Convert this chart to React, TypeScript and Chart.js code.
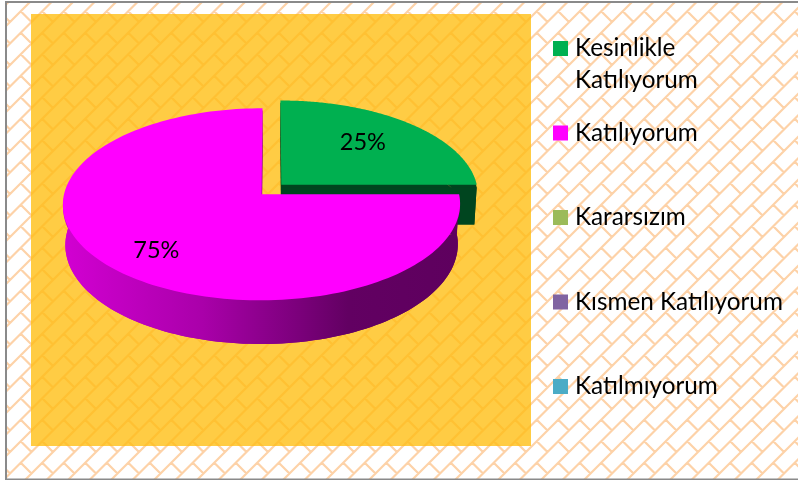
import React, { useEffect, useRef } from "react";
import { Chart, registerables } from "chart.js";

Chart.register(...registerables);

const categories = ["Kesinlikle Katılıyorum", "Katılıyorum", "Kararsızım", "Kısmen Katılıyorum", "Katılmıyorum"];
const shares = [25, 75, 0, 0, 0];
const colors = ["#00B050", "#FF00FF", "#9BBB59", "#8064A2", "#4BACC6"];
const explode = [13, 13, 0, 0, 0];

const FONT = "Lato";
const PERSPECTIVE = 0.104;
const Y_SCALE = 94;
const X_SCALE = 196.5;
const LABEL_RADIUS = [0.62, 0.71, 0.6, 0.6, 0.6];
const LABEL_LIFT = [-3, 6, 0, 0, 0];

function brickPattern(ctx: CanvasRenderingContext2D, base: string | null, line: string, ox: number, oy: number) {
  const T = 21.5;
  const size = 86;
  const big = document.createElement("canvas");
  big.width = size * 3;
  big.height = size * 3;
  const b = big.getContext("2d")!;
  if (base) {
    b.fillStyle = base;
    b.fillRect(0, 0, size * 3, size * 3);
  }
  b.filter = "blur(0.7px)";
  b.strokeStyle = line;
  b.lineWidth = 2.2;
  b.translate(ox, oy);
  b.beginPath();
  for (let i = -2; i < 15; i++) {
    for (let j = -2; j < 15; j++) {
      const x = i * T;
      const y = j * T;
      b.moveTo(x, y + T);
      b.lineTo(x + T, y);
      b.moveTo(x + T / 2, y + T / 2);
      b.lineTo(x + T, y + T);
    }
  }
  b.stroke();
  const c = document.createElement("canvas");
  c.width = size;
  c.height = size;
  c.getContext("2d")!.drawImage(big, size, size, size, size, 0, 0, size, size);
  return ctx.createPattern(c, "repeat")!;
}

function backgroundPlugin() {
  return {
    id: "bg",
    beforeDraw(chart: any) {
      const ctx: CanvasRenderingContext2D = chart.ctx;
      const { width, height } = chart;
      ctx.save();
      ctx.fillStyle = "#FFFFFF";
      ctx.fillRect(0, 0, width, height);
      ctx.fillStyle = brickPattern(ctx, null, "#FDD2A8", 10, 0.5);
      ctx.fillRect(0, 0, width, height);
      ctx.fillStyle = brickPattern(ctx, "#FFCC44", "#FFC133", 10, 0.5);
      ctx.fillRect(31, 14, 500, 432);
      ctx.fillStyle = "#FFFFFF";
      ctx.fillRect(0, 0, 5, height);
      ctx.fillRect(0, 0, width, 1);
      ctx.fillStyle = "#8A8A8A";
      ctx.fillRect(5, 1, 2, height - 1);
      ctx.fillRect(5, 1, width - 5, 2);
      ctx.fillRect(5, 478.5, width - 5, 1.5);
      ctx.restore();
    },
  };
}

function project(el: any, angle: number, radial: number, offset: number, mid: number, z: number) {
  const u = radial * Math.cos(angle) + (offset / el.outerRadius) * Math.cos(mid);
  const v = radial * Math.sin(angle) + (offset / el.outerRadius) * Math.sin(mid);
  const w = 1 - PERSPECTIVE * v;
  const shrink = 1 - 0.012 * z;
  return {
    x: el.x + (X_SCALE * shrink * u) / w,
    y: el.y + (Y_SCALE * v) / w + z * (39.8 + 3.7 * v),
  };
}

function sliceOutline(el: any, z: number) {
  const mid = (el.startAngle + el.endAngle) / 2;
  const off = el.options.offset;
  const pts = [project(el, 0, 0, off, mid, z)];
  const steps = 160;
  for (let i = 0; i <= steps; i++) {
    const a = el.startAngle + ((el.endAngle - el.startAngle) * i) / steps;
    pts.push(project(el, a, 1, off, mid, z));
  }
  return pts;
}

function fillPoly(ctx: CanvasRenderingContext2D, pts: { x: number; y: number }[]) {
  ctx.beginPath();
  pts.forEach((p, i) => (i ? ctx.lineTo(p.x, p.y) : ctx.moveTo(p.x, p.y)));
  ctx.closePath();
  ctx.fill();
}

function wallStyle(ctx: CanvasRenderingContext2D, index: number) {
  if (index === 0) return "#00451F";
  const g = ctx.createLinearGradient(63, 0, 459, 0);
  g.addColorStop(0, "#D200D2");
  g.addColorStop(0.35, "#AA00AA");
  g.addColorStop(0.6, "#7A007A");
  g.addColorStop(0.72, "#620062");
  g.addColorStop(1, "#5E005E");
  return g;
}

function piePlugin() {
  return {
    id: "pie3d",
    beforeDatasetsDraw(chart: any) {
      const ctx: CanvasRenderingContext2D = chart.ctx;
      const meta = chart.getDatasetMeta(0);
      ctx.save();
      meta.data.forEach((el: any, i: number) => {
        if (!shares[i]) return;
        const top = sliceOutline(el, 0);
        const upper = sliceOutline(el, 0.06);
        const bottom = sliceOutline(el, 1);
        ctx.fillStyle = wallStyle(ctx, i);
        fillPoly(ctx, bottom);
        fillPoly(ctx, [...upper.slice(1), ...bottom.slice(1).reverse()]);
        fillPoly(ctx, [upper[0], upper[1], bottom[1], bottom[0]]);
        fillPoly(ctx, [upper[0], upper[upper.length - 1], bottom[bottom.length - 1], bottom[0]]);
        ctx.fillStyle = el.options.backgroundColor;
        fillPoly(ctx, top);
      });
      ctx.fillStyle = "#000000";
      ctx.font = `23.5px ${FONT}`;
      ctx.textAlign = "center";
      ctx.textBaseline = "middle";
      meta.data.forEach((el: any, i: number) => {
        if (!shares[i]) return;
        const mid = (el.startAngle + el.endAngle) / 2;
        const p = project(el, mid, LABEL_RADIUS[i], el.options.offset, mid, 0);
        ctx.fillText(`${shares[i]}%`, p.x, p.y + LABEL_LIFT[i]);
      });
      ctx.restore();
      return false;
    },
  };
}

function legendPlugin() {
  return {
    id: "sideLegend",
    afterDraw(chart: any) {
      const ctx: CanvasRenderingContext2D = chart.ctx;
      ctx.save();
      ctx.font = `24.3px ${FONT}`;
      ctx.textAlign = "left";
      ctx.textBaseline = "alphabetic";
      const pitch = 84.5;
      chart.data.labels.forEach((label: string, i: number) => {
        const top = 41 + i * pitch;
        ctx.fillStyle = colors[i];
        ctx.fillRect(553, top, 15, 15);
        ctx.fillStyle = "#000000";
        const words = label.split(" ");
        const lines: string[] = [];
        let cur = "";
        words.forEach((w) => {
          const next = cur ? `${cur} ${w}` : w;
          if (ctx.measureText(next).width > 215 && cur) {
            lines.push(cur);
            cur = w;
          } else cur = next;
        });
        lines.push(cur);
        lines.forEach((t, k) => ctx.fillText(t, 575, top + 15 + k * 32));
      });
      ctx.restore();
    },
  };
}

export default function App() {
  const ref = useRef<HTMLCanvasElement>(null);
  useEffect(() => {
    document.body.style.margin = "0";
    const chart = new Chart(ref.current!, {
      type: "pie",
      data: {
        labels: categories,
        datasets: [{ data: shares, backgroundColor: colors, offset: explode, borderWidth: 0 }],
      },
      options: {
        responsive: false,
        animation: false,
        layout: { padding: { left: 0, top: 0, right: 255, bottom: 101 } },
        plugins: { legend: { display: false }, tooltip: { enabled: false } },
      },
      plugins: [backgroundPlugin(), piePlugin(), legendPlugin()],
    } as any);
    return () => chart.destroy();
  }, []);
  return <canvas ref={ref} width={798} height={480} style={{ display: "block" }} />;
}
